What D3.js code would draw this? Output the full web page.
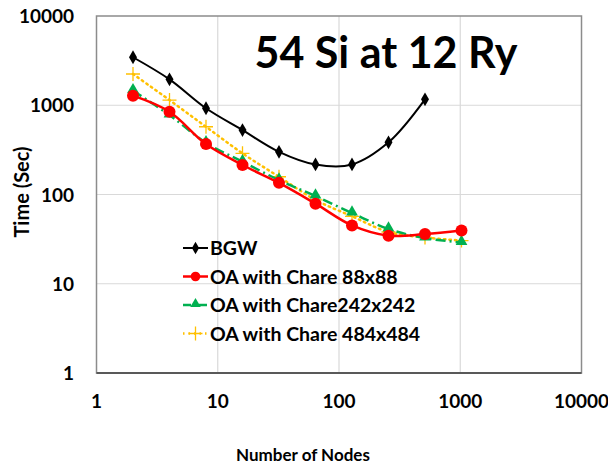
<html>
<!DOCTYPE html>
<meta charset="utf-8">
<style>
  body { margin: 0; background: #fff; }
  text { font-family: Lato, "Open Sans", sans-serif; font-weight: bold; fill: #000; }
</style>
<body>
<div id="viz"></div>
<script src="https://d3js.org/d3.v7.min.js"></script>
<script>
// data
var nodes = [2, 4, 8, 16, 32, 64, 128, 256, 512, 1024];
var bgw = [3450, 1950, 925, 527, 301, 217, 217, 384, 1165];
var chare88 = [1280, 845, 367, 214, 135, 79, 45, 34.5, 36, 39.5];
var chare242 = [1455, 776, 380, 233, 145, 96, 62, 41, 32.5, 29];
var chare484 = [2240, 1143, 574, 289, 158, 87, 57, 38, 33, 30.5];
var xTicks = [1, 10, 100, 1000, 10000];
var yTicks = [1, 10, 100, 1000, 10000];

var series = [
  {name: "BGW", vals: bgw, color: "#000", width: 2, dash: null, mark: "diamond"},
  {name: "OA with Chare 88x88", vals: chare88, color: "#ff0000", width: 2.5, dash: null, mark: "circle"},
  {name: "OA with Chare242x242", vals: chare242, color: "#00b050", width: 2.5, dash: "10,4,2,4", mark: "triangle"},
  {name: "OA with Chare 484x484", vals: chare484, color: "#ffc000", width: 2.5, dash: "1.5,4", mark: "cross"}
];

var svg = d3.select("#viz").append("svg").attr("width", 608).attr("height", 467);
var pLeft = 96.5, pRight = 581.5, pTop = 16, pBottom = 373;

var x = d3.scaleLog().domain([1, 10000]).range([pLeft, pRight]);
var y = d3.scaleLog().domain([1, 10000]).range([pBottom, pTop]);

// grid
svg.append("g").selectAll("line").data(xTicks.slice(1, -1)).enter().append("line")
  .attr("x1", d => x(d)).attr("x2", d => x(d)).attr("y1", pTop).attr("y2", pBottom)
  .attr("stroke", "#d9d9d9").attr("stroke-width", 1.2);
svg.append("g").selectAll("line").data(yTicks.slice(1, -1)).enter().append("line")
  .attr("y1", d => y(d)).attr("y2", d => y(d)).attr("x1", pLeft).attr("x2", pRight)
  .attr("stroke", "#d9d9d9").attr("stroke-width", 1.2);

svg.append("rect").attr("x", pLeft).attr("y", pTop).attr("width", pRight - pLeft).attr("height", pBottom - pTop)
  .attr("fill", "none").attr("stroke", "#8c8c8c").attr("stroke-width", 1.5);
svg.append("line").attr("x1", pLeft).attr("x2", pRight).attr("y1", pBottom).attr("y2", pBottom)
  .attr("stroke", "#595959").attr("stroke-width", 2);

// tick labels
svg.append("g").selectAll("text").data(xTicks).enter().append("text")
  .attr("x", d => x(d)).attr("y", 408).attr("text-anchor", "middle")
  .style("font-size", "19px").text(d => d);
svg.append("g").selectAll("text").data(yTicks).enter().append("text")
  .attr("x", 74).attr("y", d => y(d) + 7).attr("text-anchor", "end")
  .style("font-size", "19px").text(d => d);

svg.append("text").attr("x", 303).attr("y", 461).attr("text-anchor", "middle")
  .style("font-size", "17px").text("Number of Nodes");
svg.append("text").attr("transform", "translate(29,192) rotate(-90)").attr("text-anchor", "middle")
  .style("font-size", "20px").text("Time (Sec)");

svg.append("text").attr("x", 386).attr("y", 68).attr("text-anchor", "middle")
  .style("font-size", "43px").text("54 Si at 12 Ry");

var line = d3.line()
  .x((d, i) => x(nodes[i])).y(d => y(d))
  .curve(d3.curveCatmullRom.alpha(0.5));

function marker(g, s, cx, cy, small) {
  var k = small ? 0.8 : 1;
  if (s.mark === "diamond") {
    g.append("path").attr("d", d3.symbol(d3.symbolDiamond, 55 * k)())
      .attr("transform", "translate(" + cx + "," + cy + ")").attr("fill", s.color);
  } else if (s.mark === "circle") {
    g.append("circle").attr("cx", cx).attr("cy", cy).attr("r", 6 * k).attr("fill", s.color);
  } else if (s.mark === "triangle") {
    g.append("path").attr("d", d3.symbol(d3.symbolTriangle, 60 * k)())
      .attr("transform", "translate(" + cx + "," + (cy - 1) + ")").attr("fill", s.color);
  } else {
    g.append("path").attr("d", "M-7,0H7M0,-7V7")
      .attr("transform", "translate(" + cx + "," + cy + ")")
      .attr("stroke", s.color).attr("stroke-width", 1.3).attr("fill", "none");
  }
}

// draw yellow, green first then red and black on top
[3, 2, 1, 0].forEach(function(idx) {
  var s = series[idx];
  var g = svg.append("g");
  g.append("path").datum(s.vals).attr("d", line)
    .attr("fill", "none").attr("stroke", s.color).attr("stroke-width", s.width)
    .attr("stroke-dasharray", s.dash).attr("stroke-linecap", s.dash === "1.5,4" ? "round" : "butt");
  s.vals.forEach(function(v, i) { marker(g, s, x(nodes[i]), y(v)); });
});

// legend
var lg = svg.append("g");
series.forEach(function(s, i) {
  var ly = 248 + i * 28.5;
  lg.append("line").attr("x1", 183).attr("x2", 208).attr("y1", ly).attr("y2", ly)
    .attr("stroke", s.color).attr("stroke-width", s.width)
    .attr("stroke-dasharray", s.dash === "10,4,2,4" ? "8,3,2,3" : s.dash);
  marker(lg, s, 195.5, ly, true);
  lg.append("text").attr("x", 210).attr("y", ly + 7).style("font-size", "19.5px").text(s.name);
});
</script>
</body>
</html>
